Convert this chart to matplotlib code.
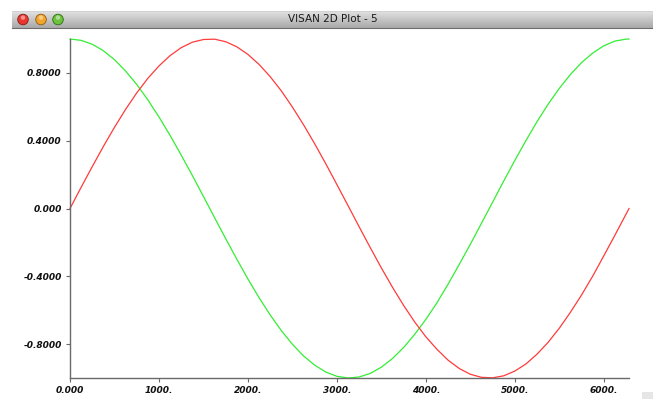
import numpy as np
import matplotlib
matplotlib.use("Agg")
import matplotlib.pyplot as plt
from matplotlib.patches import Circle, Rectangle

x_vals = [0, 125, 250, 375, 500, 625, 750, 875, 1000, 1125, 1250, 1375, 1500,
          1625, 1750, 1875, 2000, 2125, 2250, 2375, 2500, 2625, 2750, 2875,
          3000, 3125, 3250, 3375, 3500, 3625, 3750, 3875, 4000, 4125, 4250,
          4375, 4500, 4625, 4750, 4875, 5000, 5125, 5250, 5375, 5500, 5625,
          5750, 5875, 6000, 6125, 6250, 6283]
red_vals = [0.000, 0.125, 0.247, 0.366, 0.479, 0.585, 0.682, 0.768, 0.841,
            0.902, 0.949, 0.981, 0.997, 0.999, 0.984, 0.954, 0.909, 0.850,
            0.778, 0.694, 0.598, 0.494, 0.382, 0.264, 0.141, 0.017, -0.108,
            -0.231, -0.351, -0.465, -0.572, -0.670, -0.757, -0.831, -0.895,
            -0.944, -0.978, -0.996, -0.999, -0.987, -0.959, -0.917, -0.859,
            -0.789, -0.706, -0.612, -0.510, -0.399, -0.279, -0.157, -0.033,
            0.000]
green_vals = [1.000, 0.992, 0.969, 0.931, 0.878, 0.811, 0.732, 0.641, 0.540,
              0.431, 0.315, 0.195, 0.071, -0.054, -0.178, -0.299, -0.416,
              -0.526, -0.628, -0.720, -0.801, -0.870, -0.924, -0.965, -0.990,
              -1.000, -0.994, -0.973, -0.936, -0.885, -0.820, -0.742, -0.654,
              -0.556, -0.446, -0.330, -0.211, -0.087, 0.037, 0.162, 0.284,
              0.401, 0.513, 0.616, 0.709, 0.791, 0.861, 0.917, 0.960, 0.988,
              0.999, 1.000]
x_ticks = [0, 1000, 2000, 3000, 4000, 5000, 6000]
x_tick_labels = ["0.000", "1000.", "2000.", "3000.", "4000.", "5000.", "6000."]
y_ticks = [-0.8, -0.4, 0.0, 0.4, 0.8]
y_tick_labels = ["-0.8000", "-0.4000", "0.000", "0.4000", "0.8000"]
window_title = "VISAN 2D Plot - 5"

W, H = 653, 399
fig = plt.figure(figsize=(W / 100, H / 100), dpi=100)
fig.patch.set_facecolor("white")

# ---- window chrome overlay (pixel coordinates) ----
over = fig.add_axes([0, 0, 1, 1], zorder=-1)
over.set_xlim(0, W)
over.set_ylim(H, 0)
over.axis("off")
grad = np.linspace(0, 1, 64).reshape(-1, 1)
over.imshow(grad, cmap=matplotlib.colors.LinearSegmentedColormap.from_list(
    "tb", ["#e2e2e2", "#a9a9a9"]), extent=[12, W, 28, 11], aspect="auto",
    interpolation="bilinear")
over.plot([12, W], [28.3, 28.3], color="#6e6e6e", lw=0.8)
over.plot([12, W], [11, 11], color="#d0d0d0", lw=0.6)
for cx, fc, ec in [(23, "#e8372f", "#8a1a14"), (41, "#f2a52a", "#8f5a10"),
                   (58, "#6cc23c", "#2f6e18")]:
    over.add_patch(Circle((cx, 19.5), 5.3, facecolor=fc, edgecolor=ec, lw=0.6))
    over.add_patch(Circle((cx, 17.6), 2.2, facecolor="white", alpha=0.45,
                          edgecolor="none"))
over.text(333, 19.5, window_title, ha="center", va="center", fontsize=7.5,
          color="#1a1a1a", family="DejaVu Sans")
over.add_patch(Rectangle((642, 392), 11, 7, facecolor="#e6e6e6",
                         edgecolor="none"))

# ---- plot ----
ax = fig.add_axes([70 / W, 21 / H, 559 / W, 339 / H])
ax.plot(x_vals, green_vals, color="#33ee33", lw=0.9)
ax.plot(x_vals, red_vals, color="#ff3b3b", lw=0.9)
ax.set_xlim(0, 6283)
ax.set_ylim(-1, 1)
ax.set_xticks(x_ticks)
ax.set_xticklabels(x_tick_labels)
ax.set_yticks(y_ticks)
ax.set_yticklabels(y_tick_labels)
for s in ["top", "right"]:
    ax.spines[s].set_visible(False)
for s in ["left", "bottom"]:
    ax.spines[s].set_color("#6a6a6a")
    ax.spines[s].set_linewidth(1.0)
ax.tick_params(direction="out", length=3, width=0.8, color="#6a6a6a",
               labelsize=6.5, pad=3)
for lab in ax.get_xticklabels() + ax.get_yticklabels():
    lab.set_fontweight("bold")
    lab.set_fontstyle("italic")
    lab.set_color("#111111")
ax.patch.set_alpha(0)
for line in ax.lines:
    line.set_clip_on(False)

fig.savefig("out.png", dpi=100)
